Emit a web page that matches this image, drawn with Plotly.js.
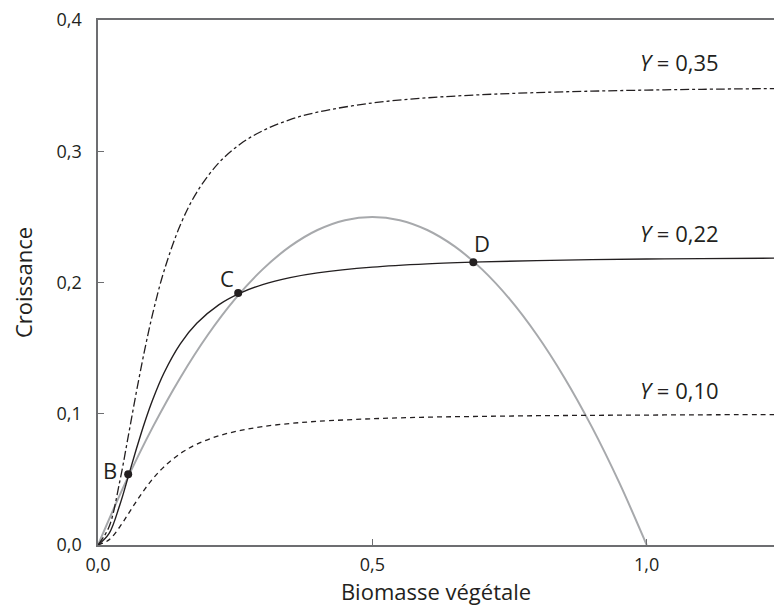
<!DOCTYPE html>
<html>
<head>
<meta charset="utf-8">
<script src="https://cdn.plot.ly/plotly-3.0.1.min.js"></script>
<style>html,body{margin:0;padding:0;background:#fff;}#chart{width:774px;height:608px;}</style>
</head>
<body>
<div id="chart"></div>
<script>
// Biomass values (x) for the consumption curves
const biomass = [0, 0.02, 0.04, 0.055, 0.07, 0.085, 0.10, 0.12, 0.15, 0.18, 0.22, 0.26, 0.30, 0.35, 0.40, 0.50, 0.60, 0.70, 0.80, 0.90, 1.00, 1.10, 1.24];
const consY010 = [0, 0.0039, 0.0140, 0.0236, 0.0333, 0.0424, 0.0505, 0.0595, 0.0697, 0.0768, 0.0832, 0.0873, 0.0902, 0.0926, 0.0942, 0.0962, 0.0974, 0.0980, 0.0985, 0.0988, 0.0990, 0.0992, 0.0994];
const consY022 = [0, 0.0086, 0.0309, 0.0519, 0.0733, 0.0934, 0.1111, 0.1309, 0.1533, 0.1689, 0.1830, 0.1921, 0.1984, 0.2037, 0.2073, 0.2117, 0.2142, 0.2157, 0.2167, 0.2174, 0.2179, 0.2182, 0.2186];
const consY035 = [0, 0.0137, 0.0491, 0.0826, 0.1167, 0.1485, 0.1768, 0.2083, 0.2438, 0.2687, 0.2911, 0.3057, 0.3156, 0.3241, 0.3298, 0.3368, 0.3407, 0.3431, 0.3447, 0.3458, 0.3466, 0.3472, 0.3478];
// Plant growth curve (grey)
const growthX = [0, 0.05, 0.10, 0.15, 0.20, 0.25, 0.30, 0.35, 0.40, 0.45, 0.50, 0.55, 0.60, 0.65, 0.70, 0.75, 0.80, 0.85, 0.90, 0.95, 1.00];
const growthY = [0, 0.0475, 0.09, 0.1275, 0.16, 0.1875, 0.21, 0.2275, 0.24, 0.2475, 0.25, 0.2475, 0.24, 0.2275, 0.21, 0.1875, 0.16, 0.1275, 0.09, 0.0475, 0];
// Equilibrium points
const ptLabels = ['B', 'C', 'D'];
const ptX = [0.055, 0.2555, 0.684];
const ptY = [0.054, 0.192, 0.2155];
// Curve labels
const curveLabels = ['<i>Y</i> = 0,35', '<i>Y</i> = 0,22', '<i>Y</i> = 0,10'];
const curveLabelY = [0.368, 0.2376, 0.118];
// Ticks
const xTicks = [0, 0.5, 1.0];
const xTickText = ['0,0', '0,5', '1,0'];
const yTicks = [0, 0.1, 0.2, 0.3, 0.4];
const yTickText = ['0,0', '0,1', '0,2', '0,3', '0,4'];

const font = 'Open Sans, Noto Sans, DejaVu Sans, sans-serif';
const txt = '#231f20';

const traces = [
  {x: growthX, y: growthY, mode: 'lines', line: {color: '#a7a9ac', width: 2, shape: 'spline'}, hoverinfo: 'skip'},
  {x: biomass, y: consY035, mode: 'lines', line: {color: txt, width: 1.3, shape: 'spline', dash: '9px,3px,3px,3px'}},
  {x: biomass, y: consY022, mode: 'lines', line: {color: txt, width: 1.4, shape: 'spline'}},
  {x: biomass, y: consY010, mode: 'lines', line: {color: txt, width: 1.3, shape: 'spline', dash: '5px,4px'}},
  {x: ptX, y: ptY, mode: 'markers', marker: {color: txt, size: 8}}
];

const ann = [];
curveLabels.forEach((t, i) => ann.push({x: 1.06, y: curveLabelY[i], xref: 'x', yref: 'y', text: t, showarrow: false, font: {family: font, size: 22, color: txt}, xanchor: 'center', yanchor: 'middle'}));
const ptOff = [[-18, 4], [-11, 15], [9, 19]];
ptLabels.forEach((t, i) => ann.push({x: ptX[i], y: ptY[i], xref: 'x', yref: 'y', text: t, showarrow: false, xshift: ptOff[i][0], yshift: ptOff[i][1], font: {family: font, size: 22, color: txt}, xanchor: 'center', yanchor: 'middle'}));

const layout = {
  width: 774, height: 608,
  margin: {l: 98, r: 0, t: 20, b: 63},
  showlegend: false,
  paper_bgcolor: '#fff', plot_bgcolor: '#fff',
  font: {family: font, color: txt, size: 18},
  xaxis: {
    range: [0, 1.232], tickvals: xTicks, ticktext: xTickText,
    ticks: 'inside', ticklen: 6, tickcolor: '#6d6e71', tickwidth: 1.2,
    showline: true, linecolor: '#6d6e71', linewidth: 1.6, mirror: true,
    showgrid: false, zeroline: false, tickfont: {size: 18},
    ticklabelstandoff: 3,
    title: {text: 'Biomasse végétale', font: {size: 22}, standoff: 5}
  },
  yaxis: {
    range: [0, 0.4], tickvals: yTicks, ticktext: yTickText,
    ticks: 'inside', ticklen: 6, tickcolor: '#6d6e71', tickwidth: 1.2,
    showline: true, linecolor: '#6d6e71', linewidth: 1.6,
    showgrid: false, zeroline: false, tickfont: {size: 18},
    ticklabelstandoff: 11,
    title: {text: 'Croissance', font: {size: 22}, standoff: 18}
  },
  annotations: ann
};

Plotly.newPlot('chart', traces, layout, {displayModeBar: false, staticPlot: true});
</script>
</body>
</html>
